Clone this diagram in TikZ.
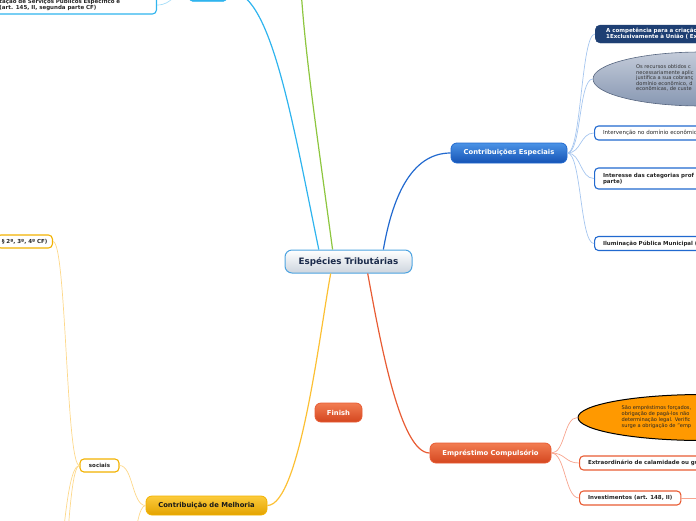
\documentclass[tikz,border=0pt]{standalone}
\usepackage{fontspec}
\setmainfont{DejaVu Sans}
\usepackage{tikz}
\usetikzlibrary{shapes.geometric}
\definecolor{rootEdge}{HTML}{4DA3E0}
\definecolor{rootShade}{HTML}{CDD5DE}
\definecolor{rootText}{HTML}{1B2B4B}
\definecolor{ceTop}{HTML}{4B93E6}
\definecolor{ceBottom}{HTML}{1553B5}
\definecolor{ceEdge}{HTML}{2169CF}
\definecolor{navyFill}{HTML}{1E3F73}
\definecolor{slateTop}{HTML}{C3CBD9}
\definecolor{slateBottom}{HTML}{8797B2}
\definecolor{slateEdge}{HTML}{56657F}
\definecolor{ecTop}{HTML}{F27D52}
\definecolor{ecBottom}{HTML}{D4461F}
\definecolor{ecEdge}{HTML}{E85C34}
\definecolor{mmOrange}{HTML}{FF9900}
\definecolor{cmTop}{HTML}{FCCB3C}
\definecolor{cmBottom}{HTML}{E3A300}
\definecolor{cmEdge}{HTML}{F2B200}
\definecolor{mmCyan}{HTML}{2FB4EE}
\definecolor{mmGreen}{HTML}{8DC63F}
\definecolor{twigBlue}{HTML}{A6C6EF}
\definecolor{twigRed}{HTML}{F7A48E}
\definecolor{twigGold}{HTML}{FDD88A}
\definecolor{twigCyan}{HTML}{A5DDF8}
\newcommand{\rootfont}{\fontsize{8.8}{10}\selectfont\bfseries}
\newcommand{\trunkfont}{\fontsize{6.8}{8}\selectfont\bfseries}
\newcommand{\leaffont}{\fontsize{5.5}{6}\selectfont}
\newcommand{\leafbold}{\fontsize{5.5}{6}\selectfont\bfseries}
\newcommand{\ellfont}{\fontsize{5.1}{5.6}\selectfont}

\begin{document}
\begin{tikzpicture}[
    x=1pt, y=1pt,
    rootbox/.style   = {rectangle, rounded corners=7pt, draw=rootEdge, line width=1pt, top color=white, bottom color=rootShade, text=rootText, font=\rootfont, minimum width=127pt, minimum height=23pt, inner sep=0pt},
    bluebox/.style   = {rectangle, rounded corners=6pt, draw=ceEdge, line width=0.8pt, top color=ceTop, bottom color=ceBottom, text=white, font=\trunkfont, minimum width=116pt, minimum height=20pt, inner sep=0pt},
    redbox/.style    = {rectangle, rounded corners=6pt, draw=ecEdge, line width=0.8pt, top color=ecTop, bottom color=ecBottom, text=white, font=\trunkfont, minimum width=121pt, minimum height=20pt, inner sep=0pt},
    goldbox/.style   = {rectangle, rounded corners=6pt, draw=cmEdge, line width=0.8pt, top color=cmTop, bottom color=cmBottom, text=black!90, font=\trunkfont, minimum width=121pt, minimum height=19pt, inner sep=0pt},
    navybox/.style   = {rectangle, rounded corners=5pt, draw=navyFill, fill=navyFill, text=white, font=\leafbold, anchor=west, align=left, text width=140pt, inner xsep=11pt, inner ysep=0pt, minimum height=18pt},
    leafblue/.style  = {rectangle, rounded corners=4pt, draw=ceEdge, line width=1.1pt, fill=white, text=black!85, font=\leaffont, anchor=west, align=left, inner xsep=8.5pt, inner ysep=0pt, minimum height=14pt},
    leafred/.style   = {leafblue, draw=ecEdge},
    leafgold/.style  = {leafblue, draw=cmEdge},
    servbox/.style   = {leafblue, draw=mmCyan, font=\leafbold, anchor=east, text width=151pt, inner xsep=6pt, minimum height=18pt},
    cyanbar/.style   = {rectangle, rounded corners=4pt, draw=mmCyan, fill=mmCyan, minimum width=38pt, minimum height=20pt},
    wide/.style      = {text width=130pt},
    slateell/.style  = {ellipse, draw=slateEdge, line width=0.6pt, top color=slateTop, bottom color=slateBottom, minimum width=216pt, minimum height=54pt, inner sep=0pt},
    orangeell/.style = {ellipse, draw=black, line width=1pt, fill=mmOrange, minimum width=250pt, minimum height=46pt, inner sep=0pt},
    elltext/.style   = {font=\ellfont, text=black!80, align=left, anchor=west, inner sep=0pt},
    trunk/.style     = {line width=1.2pt},
    twig/.style      = {line width=0.7pt}
  ]
  \useasboundingbox (0,0) rectangle (696,-520);
  \clip (0,0) rectangle (696,-520);

  %% root and main branches
  \node[rootbox] (root) at (348.5,-261.5) {Espécies Tributárias};
  \node[bluebox] (contesp) at (509,-153) {Contribuições Especiais};
  \node[redbox] (emprest) at (490.5,-453) {Empréstimo Compulsório};
  \node[goldbox] (melhoria) at (206.5,-505.5) {Contribuição de Melhoria};
  \node[redbox, minimum width=47pt, minimum height=19pt] (finish) at (338.5,-412.5) {Finish};
  \node[cyanbar] (taxas) at (208,8.5) {};
  \coordinate (greentop) at (300,30);

  %% Contribuicoes Especiais leaves
  \node[navybox] (compet) at (595,-34) {A competência para a criação\\1Exclusivamente à União ( Ex};
  \node[slateell] (recursos) at (701,-79) {};
  \node[elltext] (recursostxt) at (636,-78) {Os recursos obtidos c\\necessariamente aplic\\justifica a sua cobranç\\domínio econômico, d\\econômicas, de custe};
  \node[leafblue, wide] (interv) at (594,-133) {Intervenção no domínio econômic};
  \node[leafblue, wide, font=\leafbold, minimum height=21pt] (interesse) at (594,-178.5) {Interesse das categorias prof\\parte)};
  \node[leafblue, wide, font=\leafbold] (ilum) at (594,-243.5) {Iluminação Pública Municipal (};

  %% Emprestimo Compulsorio leaves
  \node[orangeell] (forcados) at (703,-417.5) {};
  \node[elltext, font=\fontsize{5.1}{6.2}\selectfont, text=black!85] (forcadostxt) at (621.5,-417) {São empréstimos forçados,\\obrigação de pagá-los não\\determinação legal. Verific\\surge a obrigação de "emp};
  \node[leafred, wide, font=\leafbold] (extra) at (579,-463) {Extraordinário de calamidade ou gu};
  \node[leafred, font=\leafbold] (invest) at (579,-498) {Investimentos (art. 148, II)};
  \coordinate (investnext) at (740,-498);

  %% Contribuicao de Melhoria leaves
  \node[leafgold, font=\leafbold, anchor=center, minimum width=39pt, minimum height=13pt] (sociais) at (99.5,-465.5) {sociais};
  \node[leafgold, font=\leafbold, anchor=east, inner xsep=5pt, minimum height=13pt] (paragr) at (53,-241.5) {§ 2º, 3º, 4º CF)};
  \coordinate (melhoriadown) at (120,-600);
  \coordinate (socdownA) at (45,-620);
  \coordinate (socdownB) at (50,-700);

  %% Taxas leaf (top left)
  \node[servbox] (servico) at (157,-5) {tação de Serviços Públicos Específico e\\(art. 145, II, segunda parte CF)};

  %% trunk lines from the root
  \draw[trunk, mmCyan] (root.158) .. controls (292,-120) and (270,15) .. (taxas.east);
  \draw[trunk, mmGreen] (root.143) .. controls (315,-120) and (303,-40) .. (greentop);
  \draw[trunk, ceEdge] (root.19) .. controls (392,-200) and (410,-153) .. (contesp.west);
  \draw[trunk, ecEdge] (root.328) .. controls (380,-340) and (400,-453) .. (emprest.west);
  \draw[trunk, cmTop!85!orange] (root.214) .. controls (320,-330) and (300,-505) .. (melhoria.east);

  %% twigs
  \foreach \leaf in {compet,recursos,interv,interesse,ilum}
    \draw[twig, twigBlue] (contesp.east) .. controls +(14,0) and +(-14,0) .. (\leaf.west);
  \foreach \leaf in {forcados,extra,invest}
    \draw[twig, twigRed] (emprest.east) .. controls +(14,0) and +(-14,0) .. (\leaf.west);
  \draw[twig, twigRed] (invest.east) -- (investnext);
  \draw[twig, twigGold] (melhoria.west) .. controls +(-13.5,0) and +(13.5,0) .. (sociais.east);
  \draw[twig, twigGold] (melhoria.west) .. controls +(-13,0) and +(13,0) .. (melhoriadown);
  \draw[twig, twigGold] (sociais.west) .. controls +(-13.5,0) and +(13.5,0) .. (paragr.east);
  \draw[twig, twigGold] (sociais.west) .. controls +(-17.5,0) and +(17.5,0) .. (socdownA);
  \draw[twig, twigGold] (sociais.west) .. controls +(-15,0) and +(15,0) .. (socdownB);
  \draw[twig, twigCyan] (servico.east) .. controls +(16,0) and +(-16,0) .. (taxas.west);
\end{tikzpicture}
\end{document}
